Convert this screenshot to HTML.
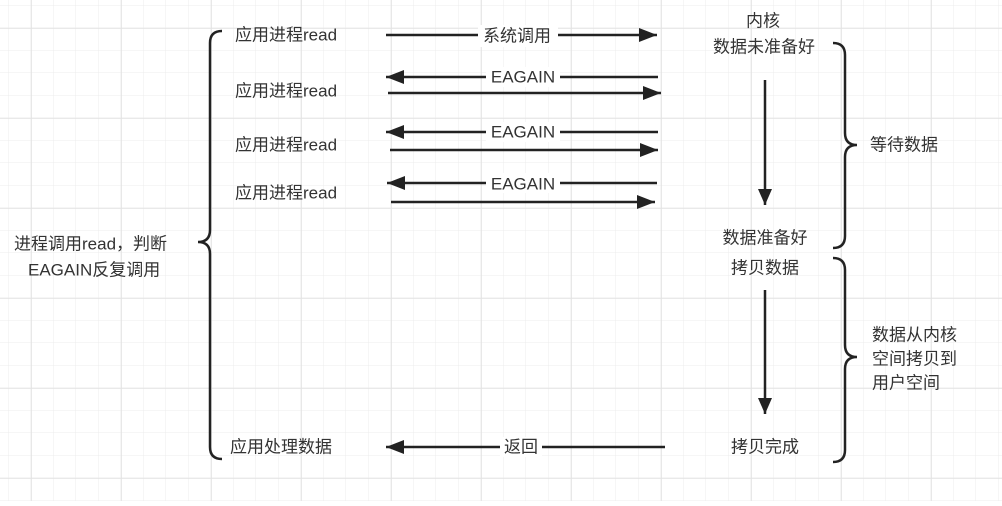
<!DOCTYPE html>
<html><head><meta charset="utf-8"><style>
html,body{margin:0;padding:0;background:#fff}
svg text{font-family:"Liberation Sans","Noto Sans CJK SC",sans-serif;font-size:17px;fill:#333}
</style></head><body>
<svg width="1002" height="501" viewBox="0 0 1002 501" xmlns="http://www.w3.org/2000/svg">
<defs>
<pattern id="g" x="8.5" y="5.5" width="22.5" height="22.5" patternUnits="userSpaceOnUse">
<path d="M22.5 0V22.5M0 22.5H22.5" stroke="#ececec" stroke-width="1" fill="none"/>
</pattern>
<pattern id="G" x="31" y="28" width="90" height="90" patternUnits="userSpaceOnUse">
<path d="M0 0V90M0 0H90" stroke="#e2e2e2" stroke-width="1.6" fill="none"/>
</pattern>
<marker id="a" markerWidth="10" markerHeight="8" refX="9" refY="4" orient="auto" markerUnits="userSpaceOnUse">
<path d="M0 0L10 4L0 8Z" fill="#222"/></marker>
<marker id="v" markerWidth="18" markerHeight="14" refX="16" refY="7" orient="auto" markerUnits="userSpaceOnUse">
<path d="M0 0L16 7L0 14Z" fill="#222"/></marker>
<marker id="h" markerWidth="20" markerHeight="14" refX="18" refY="7" orient="auto" markerUnits="userSpaceOnUse">
<path d="M0 0L18 7L0 14Z" fill="#222"/></marker>
</defs>
<rect width="1002" height="501" fill="url(#g)"/>
<rect width="1002" height="501" fill="url(#G)"/>
<g stroke="#222" stroke-width="2.5" fill="none">
<line x1="386" y1="35" x2="657" y2="35" marker-end="url(#h)"/>
<line x1="658" y1="77" x2="386" y2="77" marker-end="url(#h)"/>
<line x1="388" y1="93" x2="661" y2="93" marker-end="url(#h)"/>
<line x1="658" y1="132" x2="386" y2="132" marker-end="url(#h)"/>
<line x1="390" y1="150" x2="658" y2="150" marker-end="url(#h)"/>
<line x1="657" y1="183" x2="387" y2="183" marker-end="url(#h)"/>
<line x1="391" y1="202" x2="655" y2="202" marker-end="url(#h)"/>
<line x1="665" y1="447" x2="386" y2="447" marker-end="url(#h)"/>
<line x1="765" y1="80" x2="765" y2="205" marker-end="url(#v)"/>
<line x1="765" y1="290" x2="765" y2="414" marker-end="url(#v)"/>
<path d="M222 31Q210 31 210 43V230Q210 242 198 242Q210 242 210 254V447Q210 459 222 459"/>
<path d="M833 43Q845 43 845 55V133Q845 145 857 145Q845 145 845 157V236Q845 248 833 248"/>
<path d="M833 258Q845 258 845 270V345Q845 357 857 357Q845 357 845 369V450Q845 462 833 462"/>
</g>
<g fill="#fff">
<rect x="478" y="25" width="80" height="22"/>
<rect x="486" y="67" width="74" height="20"/>
<rect x="486" y="122" width="74" height="20"/>
<rect x="486" y="173" width="74" height="20"/>
<rect x="500" y="437" width="42" height="20"/>
</g>
<g dominant-baseline="central">
<text x="235" y="35">应用进程read</text>
<text x="235" y="91">应用进程read</text>
<text x="235" y="145">应用进程read</text>
<text x="235" y="193">应用进程read</text>
<text x="230" y="447">应用处理数据</text>
<text x="517" y="36" text-anchor="middle">系统调用</text>
<text x="523" y="77" text-anchor="middle">EAGAIN</text>
<text x="523" y="132" text-anchor="middle">EAGAIN</text>
<text x="523" y="184" text-anchor="middle">EAGAIN</text>
<text x="521" y="447" text-anchor="middle">返回</text>
<text x="763" y="21" text-anchor="middle">内核</text>
<text x="764" y="47" text-anchor="middle">数据未准备好</text>
<text x="765" y="238" text-anchor="middle">数据准备好</text>
<text x="765" y="268" text-anchor="middle">拷贝数据</text>
<text x="765" y="447" text-anchor="middle">拷贝完成</text>
<text x="870" y="145">等待数据</text>
<text x="872" y="335">数据从内核</text>
<text x="872" y="359">空间拷贝到</text>
<text x="872" y="383">用户空间</text>
<text x="14" y="244">进程调用read，判断</text>
<text x="28" y="270">EAGAIN反复调用</text>
</g>
</svg>
</body></html>
